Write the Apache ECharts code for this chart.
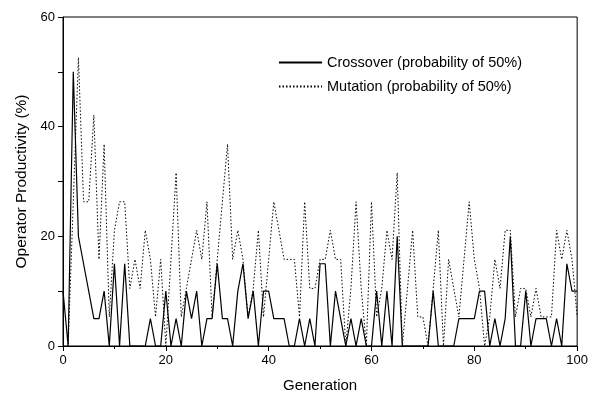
<!DOCTYPE html>
<html>
<head>
<meta charset="utf-8">
<script src="https://cdn.jsdelivr.net/npm/echarts@6/dist/echarts.min.js"></script>
<style>
  html, body { margin: 0; padding: 0; background: #fff; }
  #chart { width: 591px; height: 398px; }
</style>
</head>
<body>
<div id="chart"></div>
<script>
// generation 0..100
const generations = Array.from({ length: 101 }, (_, i) => i)

const crossover = [
  10, 0, 50, 20, 15, 10, 5, 5, 10, 0,
  15, 0, 15, 0, 0, 0, 0, 5, 0, 0,
  10, 0, 5, 0, 10, 5, 10, 0, 5, 5,
  15, 5, 5, 0, 10, 15, 5, 10, 0, 10,
  10, 5, 5, 5, 0, 0, 5, 0, 5, 0,
  15, 15, 0, 10, 5, 0, 5, 0, 5, 0,
  0, 10, 0, 10, 0, 20, 0, 0, 0, 0,
  0, 0, 10, 0, 0, 0, 0, 5, 5, 5,
  5, 10, 10, 0, 5, 0, 5, 20, 0, 0,
  10, 0, 5, 5, 5, 0, 5, 0, 15, 10,
  10
]

const mutation = [
  0, 0, 26.3, 52.6, 26.3, 26.3, 42.1, 15.8, 36.8, 5.3,
  21.1, 26.3, 26.3, 10.5, 15.8, 10.5, 21.1, 15.8, 5.3, 15.8,
  0, 15.8, 31.6, 5.3, 10.5, 15.8, 21.1, 15.8, 26.3, 5.3,
  15.8, 26.3, 36.8, 15.8, 21.1, 15.8, 5.3, 10.5, 21.1, 5.3,
  15.8, 26.3, 21.1, 15.8, 15.8, 15.8, 5.3, 26.3, 10.5, 10.5,
  15.8, 15.8, 21.1, 15.8, 15.8, 0, 10.5, 26.3, 10.5, 0,
  26.3, 5.3, 10.5, 21.1, 15.8, 31.6, 0, 10.5, 21.1, 5.3,
  5.3, 0, 10.5, 21.1, 0, 15.8, 10.5, 5.3, 15.8, 26.3,
  15.8, 10.5, 0, 5.3, 15.8, 10.5, 21.1, 21.1, 5.3, 10.5,
  10.5, 5.3, 10.5, 5.3, 5.3, 5.3, 21.1, 15.8, 21.1, 15.8,
  5.3
]

const xTicks = [0, 20, 40, 60, 80, 100]
const yTicks = [0, 20, 40, 60]

const font = 'Liberation Sans, Arial, sans-serif'
const mychart = echarts.init(document.getElementById('chart'))

const option = {
  animation: false,
  textStyle: { fontFamily: font, color: '#000' },
  grid: {
    left: 63, right: 10, top: 17, bottom: 51,
    show: true,
    borderColor: '#000',
    borderWidth: 1
  },
  legend: {
    orient: 'vertical',
    left: 278,
    top: 55,
    padding: 0,
    itemGap: 9,
    itemWidth: 43,
    itemHeight: 14,
    itemStyle: { opacity: 0 },
    textStyle: { fontFamily: font, fontSize: 14.5, color: '#000' },
    data: [
      { name: 'Crossover (probability of 50%)' },
      { name: 'Mutation (probability of 50%)' }
    ]
  },
  xAxis: {
    type: 'value',
    min: xTicks[0],
    max: xTicks[xTicks.length - 1],
    interval: 20,
    name: 'Generation',
    nameLocation: 'middle',
    nameGap: 32,
    nameTextStyle: { fontFamily: font, fontSize: 15, color: '#000' },
    axisLine: { lineStyle: { color: '#000', width: 1 } },
    axisTick: { length: 5, lineStyle: { color: '#000' } },
    minorTick: { show: true, splitNumber: 2, length: 3, lineStyle: { color: '#000' } },
    axisLabel: { fontSize: 13, color: '#000', margin: 8 },
    splitLine: { show: false }
  },
  yAxis: {
    type: 'value',
    min: yTicks[0],
    max: yTicks[yTicks.length - 1],
    interval: 20,
    name: 'Operator Productivity (%)',
    nameLocation: 'middle',
    nameGap: 32,
    nameTextStyle: { fontFamily: font, fontSize: 15.5, color: '#000' },
    axisLine: { show: true, lineStyle: { color: '#000', width: 1 } },
    axisTick: { show: true, length: 5, lineStyle: { color: '#000' } },
    minorTick: { show: true, splitNumber: 2, length: 5, lineStyle: { color: '#000' } },
    axisLabel: { fontSize: 13, color: '#000', margin: 8 },
    splitLine: { show: false }
  },
  series: [
    {
      name: 'Crossover (probability of 50%)',
      type: 'line',
      data: generations.map((g, i) => [g, crossover[i]]),
      symbol: 'none',
      itemStyle: { color: '#000' },
      lineStyle: { color: '#000', width: 1.2 }
    },
    {
      name: 'Mutation (probability of 50%)',
      type: 'line',
      data: generations.map((g, i) => [g, mutation[i]]),
      symbol: 'none',
      itemStyle: { color: '#000' },
      lineStyle: { color: '#000', width: 1, type: [1.5, 2] }
    }
  ]
}

mychart.setOption(option)
</script>
</body>
</html>
